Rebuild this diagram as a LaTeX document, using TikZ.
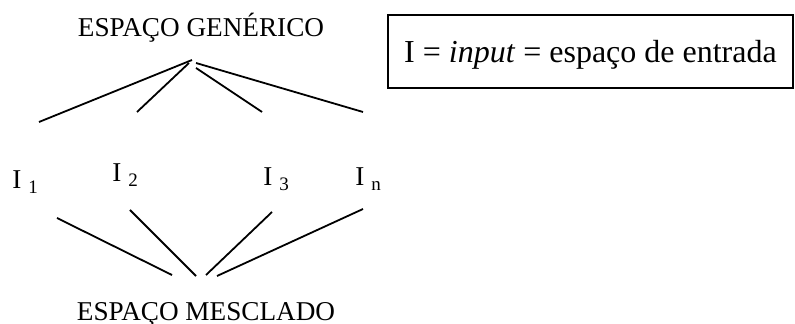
\documentclass[tikz,border=0pt]{standalone}
\usepackage{fontspec}
\setmainfont{Liberation Serif}
\usepackage{xcolor}
\usepackage{tikz}
\usetikzlibrary{positioning,calc}
\tikzset{
  node-title/.style={inner sep=0pt,anchor=base,font=\fontsize{13.6}{15}\selectfont},
  node-input/.style={inner sep=0pt,anchor=base west,font=\fontsize{13.6}{15}\selectfont},
  node-legend/.style={draw=black,line width=1pt,inner sep=0pt,
    text height=11.5pt,text depth=0pt,
    minimum width=202.5pt,minimum height=36.5pt,font=\fontsize{16}{18}\selectfont},
  link/.style={line width=0.9pt,draw=black},
}
\newcommand{\inp}[1]{I \textsubscript{#1}}

\begin{document}
\begin{tikzpicture}[x=0.5pt,y=-0.5pt]
  \useasboundingbox (0,0) rectangle (795,324);
  \node[node-title] (gen) at (201,37) {ESPAÇO GENÉRICO};
  \node[node-title] (mes) at (206,321) {ESPAÇO MESCLADO};
  \node[node-legend] (leg) at (590.5,51.5) {I = \textit{input} = espaço de entrada};
  % entradas
  \node[node-input] (i1) at (12,189) {\inp{1}};
  \node[node-input] (i2) at (112,182) {\inp{2}};
  \node[node-input] (i3) at (263,186) {\inp{3}};
  \node[node-input] (in) at (355,186) {\inp{n}};
  % pontas das ligacoes
  \coordinate (g1) at (192,60);
  \coordinate (g2) at (189,63);
  \coordinate (g3) at (196,68);
  \coordinate (g4) at (196,63);
  \coordinate (u1) at (39,122);
  \coordinate (u2) at (137,112);
  \coordinate (u3) at (262,112);
  \coordinate (u4) at (363,112);
  \coordinate (d1) at (57,218);
  \coordinate (d2) at (130,210);
  \coordinate (d3) at (272,212);
  \coordinate (d4) at (363,209);
  \coordinate (m1) at (172,275);
  \coordinate (m2) at (196,276);
  \coordinate (m3) at (206,275);
  \coordinate (m4) at (217,276);
  \foreach \k in {1,...,4}{
    \draw[link] (g\k) -- (u\k);
    \draw[link] (d\k) -- (m\k);
  }
\end{tikzpicture}
\end{document}
